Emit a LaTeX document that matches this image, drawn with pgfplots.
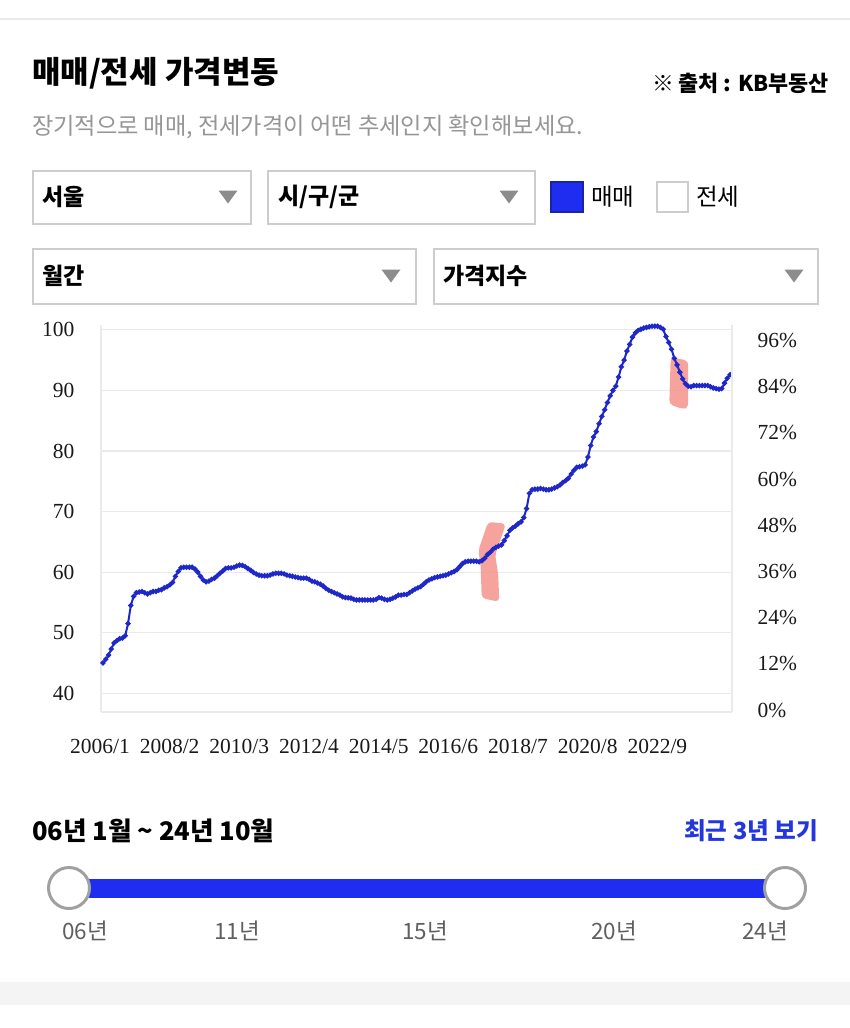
\documentclass[border=0pt]{standalone}
\usepackage{fontspec}
\usepackage{pgfplots}
\pgfplotsset{compat=1.18}
\setmainfont{Liberation Serif}
\newfontfamily\kr{Noto Sans CJK KR}
\newfontfamily\tnr{Liberation Serif}
\definecolor{lineblue}{RGB}{30,40,200}
\definecolor{uiblue}{RGB}{30,45,240}
\definecolor{uiblueedge}{RGB}{25,35,170}
\definecolor{linkblue}{RGB}{35,55,220}
\definecolor{boxgray}{RGB}{205,205,205}
\definecolor{gridgray}{RGB}{234,234,234}
\definecolor{subgray}{RGB}{150,150,150}
\definecolor{arrowgray}{RGB}{140,140,140}
\definecolor{knobgray}{RGB}{160,160,160}
\definecolor{labgray}{RGB}{95,95,95}
\definecolor{bandgray}{RGB}{244,244,244}
\definecolor{pinkmark}{RGB}{246,148,140}
\newcommand{\fs}[1]{\fontsize{#1}{#1}\selectfont}
\begin{document}
\begin{tikzpicture}
\begin{scope}[x=1pt,y=-1pt,every node/.style={inner sep=0pt,outer sep=0pt}]
\fill[white] (0,0) rectangle (850,1028);
\useasboundingbox (0,0) rectangle (850,1028);
\draw[gridgray, line width=2pt] (0,19) -- (850,19);
% title row
\node[anchor=west, font=\kr\bfseries\fs{31}] at (32,73) {매매/전세 가격변동};
\node[anchor=east, font=\kr\bfseries\fs{21.8}] at (829,83) {※ 출처 : KB부동산};
\node[anchor=west, font=\kr\fs{23.2}, text=subgray] at (32,127) {장기적으로 매매, 전세가격이 어떤 추세인지 확인해보세요.};
% dropdown row 1
\draw[boxgray, line width=1.5pt] (33,171) rectangle (251,224);
\node[anchor=west, font=\kr\bfseries\fs{23}] at (42,197) {서울};
\fill[arrowgray] (218.5,190.5) -- (237.5,190.5) -- (228,203.5) -- cycle;
\draw[boxgray, line width=1.5pt] (268,171) rectangle (535,224);
\node[anchor=west, font=\kr\bfseries\fs{23}] at (278,197) {시/구/군};
\fill[arrowgray] (499.5,190.5) -- (518.5,190.5) -- (509,203.5) -- cycle;
\fill[uiblue] (551,182) rectangle (583,212);
\draw[uiblueedge, line width=1.5pt] (551,182) rectangle (583,212);
\node[anchor=west, font=\kr\fs{23.5}] at (591,197) {매매};
\draw[boxgray, line width=1.5pt] (657,182) rectangle (688,212);
\node[anchor=west, font=\kr\fs{23.5}] at (696,197) {전세};
% dropdown row 2
\draw[boxgray, line width=1.5pt] (33,249) rectangle (416,304);
\node[anchor=west, font=\kr\bfseries\fs{23}] at (42,276) {월간};
\fill[arrowgray] (381.5,269.5) -- (400.5,269.5) -- (391,282.5) -- cycle;
\draw[boxgray, line width=1.5pt] (434,249) rectangle (818,304);
\node[anchor=west, font=\kr\bfseries\fs{23}] at (443,276) {가격지수};
\fill[arrowgray] (784.5,269.5) -- (803.5,269.5) -- (794,282.5) -- cycle;
% slider
\node[anchor=west, font=\kr\bfseries\fs{25.6}] at (32,831) {06년 1월 \textasciitilde{} 24년 10월};
\node[anchor=east, font=\kr\bfseries\fs{23.6}, text=linkblue] at (818,831) {최근 3년 보기};
\fill[uiblue] (69,879) rectangle (785,898);
\draw[fill=white, draw=knobgray, line width=3pt] (69,888) circle (20.5);
\draw[fill=white, draw=knobgray, line width=3pt] (785,888) circle (20.5);
\node[font=\kr\fs{22.5}, text=labgray] at (85,931) {06년};
\node[font=\kr\fs{22.5}, text=labgray] at (237,931) {11년};
\node[font=\kr\fs{22.5}, text=labgray] at (425,931) {15년};
\node[font=\kr\fs{22.5}, text=labgray] at (614,931) {20년};
\node[font=\kr\fs{22.5}, text=labgray] at (765,931) {24년};
\fill[bandgray] (0,982) rectangle (850,1005);
\end{scope}
% main chart
\begin{axis}[
  at={(101pt,-712pt)}, anchor=south west,
  width=631pt, height=387pt, scale only axis,
  xmin=-0.7, xmax=225.7, ymin=36.9, ymax=100.8,
  axis x line*=bottom, axis y line*=left,
  axis line style={draw=gridgray, line width=1.5pt},
  ymajorgrids, grid style={draw=gridgray, line width=1.2pt},
  major tick length=0pt,
  ytick={40,50,60,70,80,90,100},
  yticklabels={40,50,60,70,80,90,100},
  xtick={0,25,50,75,100,125,150,175,200},
  xticklabels={2006/1,2008/2,2010/3,2012/4,2014/5,2016/6,2018/7,2020/8,2022/9},
  tick label style={font=\tnr\fs{21.5}, text=black!90},
  yticklabel style={anchor=east, xshift=-23pt},
  xticklabel style={anchor=north, xshift=-3pt, yshift=-24pt},
  clip=false,
]
\fill[pinkmark, opacity=0.85, rounded corners=4pt] (axis cs:138.2,68.3) -- (axis cs:144.6,68.0) -- (axis cs:140.7,62.8) -- (axis cs:141.8,59.8) -- (axis cs:142.2,55.1) -- (axis cs:135.9,55.7) -- (axis cs:135.5,61.15) -- (axis cs:134.7,63.6) -- cycle;
\fill[pinkmark, opacity=0.85, rounded corners=4pt] (axis cs:203.7,95.5) -- (axis cs:210.0,94.9) -- (axis cs:210.0,87.2) -- (axis cs:208.2,86.9) -- (axis cs:203.2,87.7) -- cycle;
\addplot[color=lineblue, line width=2pt, mark=*, mark size=1.5pt, mark options={fill=lineblue, draw=none}]
table[row sep=\\] {m v\\
0 45.0\\ 1 45.6\\ 2 46.3\\ 3 47.3\\ 4 48.3\\ 5 48.7\\ 6 49.0\\ 7 49.1\\ 8 49.5\\ 9 51.5\\
10 54.5\\ 11 56.0\\ 12 56.6\\ 13 56.7\\ 14 56.8\\ 15 56.6\\ 16 56.4\\ 17 56.6\\ 18 56.8\\ 19 56.8\\
20 57.0\\ 21 57.1\\ 22 57.4\\ 23 57.6\\ 24 57.9\\ 25 58.3\\ 26 59.3\\ 27 60.1\\ 28 60.7\\ 29 60.8\\
30 60.8\\ 31 60.8\\ 32 60.8\\ 33 60.5\\ 34 60.0\\ 35 59.3\\ 36 58.7\\ 37 58.4\\ 38 58.5\\ 39 58.8\\
40 59.0\\ 41 59.4\\ 42 59.8\\ 43 60.2\\ 44 60.6\\ 45 60.7\\ 46 60.7\\ 47 60.8\\ 48 61.0\\ 49 61.15\\
50 61.1\\ 51 60.9\\ 52 60.6\\ 53 60.3\\ 54 59.95\\ 55 59.7\\ 56 59.5\\ 57 59.4\\ 58 59.4\\ 59 59.4\\
60 59.5\\ 61 59.7\\ 62 59.8\\ 63 59.8\\ 64 59.8\\ 65 59.7\\ 66 59.5\\ 67 59.4\\ 68 59.3\\ 69 59.2\\
70 59.1\\ 71 59.0\\ 72 59.0\\ 73 59.0\\ 74 58.8\\ 75 58.5\\ 76 58.4\\ 77 58.2\\ 78 58.0\\ 79 57.7\\
80 57.3\\ 81 57.0\\ 82 56.8\\ 83 56.6\\ 84 56.4\\ 85 56.2\\ 86 55.9\\ 87 55.8\\ 88 55.75\\ 89 55.7\\
90 55.5\\ 91 55.4\\ 92 55.4\\ 93 55.4\\ 94 55.4\\ 95 55.4\\ 96 55.4\\ 97 55.4\\ 98 55.5\\ 99 55.8\\
100 55.7\\ 101 55.5\\ 102 55.4\\ 103 55.5\\ 104 55.7\\ 105 55.9\\ 106 56.2\\ 107 56.2\\ 108 56.3\\ 109 56.3\\
110 56.6\\ 111 56.9\\ 112 57.2\\ 113 57.4\\ 114 57.6\\ 115 58.0\\ 116 58.4\\ 117 58.7\\ 118 58.9\\ 119 59.1\\
120 59.2\\ 121 59.3\\ 122 59.4\\ 123 59.5\\ 124 59.7\\ 125 59.9\\ 126 60.1\\ 127 60.4\\ 128 60.9\\ 129 61.4\\
130 61.7\\ 131 61.8\\ 132 61.8\\ 133 61.8\\ 134 61.8\\ 135 61.7\\ 136 61.9\\ 137 62.3\\ 138 62.9\\ 139 63.3\\
140 63.8\\ 141 64.1\\ 142 64.3\\ 143 64.5\\ 144 65.2\\ 145 66.0\\ 146 66.9\\ 147 67.3\\ 148 67.6\\ 149 68.0\\
150 68.3\\ 151 69.0\\ 152 70.5\\ 153 73.0\\ 154 73.6\\ 155 73.7\\ 156 73.7\\ 157 73.8\\ 158 73.7\\ 159 73.6\\
160 73.6\\ 161 73.7\\ 162 73.9\\ 163 74.1\\ 164 74.4\\ 165 74.8\\ 166 75.1\\ 167 75.5\\ 168 76.2\\ 169 76.8\\
170 77.3\\ 171 77.4\\ 172 77.5\\ 173 77.7\\ 174 79.0\\ 175 80.9\\ 176 82.3\\ 177 83.2\\ 178 84.5\\ 179 85.7\\
180 86.8\\ 181 88.0\\ 182 89.1\\ 183 90.0\\ 184 90.7\\ 185 92.2\\ 186 93.9\\ 187 95.0\\ 188 96.5\\ 189 97.6\\
190 98.8\\ 191 99.5\\ 192 99.9\\ 193 100.1\\ 194 100.3\\ 195 100.4\\ 196 100.5\\ 197 100.6\\ 198 100.6\\ 199 100.6\\
200 100.4\\ 201 100.1\\ 202 98.9\\ 203 97.9\\ 204 96.8\\ 205 95.3\\ 206 94.2\\ 207 93.0\\ 208 91.9\\ 209 91.1\\
210 90.7\\ 211 90.6\\ 212 90.8\\ 213 90.8\\ 214 90.8\\ 215 90.8\\ 216 90.8\\ 217 90.8\\ 218 90.6\\ 219 90.4\\
220 90.3\\ 221 90.2\\ 222 90.3\\ 223 91.2\\ 224 92.0\\ 225 92.6\\
};
\end{axis}
\begin{axis}[
  at={(101pt,-712pt)}, anchor=south west,
  width=631pt, height=387pt, scale only axis,
  xmin=-0.7, xmax=225.7, ymin=-0.5, ymax=100,
  axis x line=none, axis y line*=right,
  axis line style={draw=gridgray, line width=1.5pt},
  major tick length=0pt,
  ytick={0,12,24,36,48,60,72,84,96},
  yticklabels={0\%,12\%,24\%,36\%,48\%,60\%,72\%,84\%,96\%},
  tick label style={font=\tnr\fs{21.5}, text=black!90},
  yticklabel style={anchor=west, xshift=22pt},
]
\addplot[draw=none] coordinates {(0,50)};
\end{axis}
\end{tikzpicture}
\end{document}
